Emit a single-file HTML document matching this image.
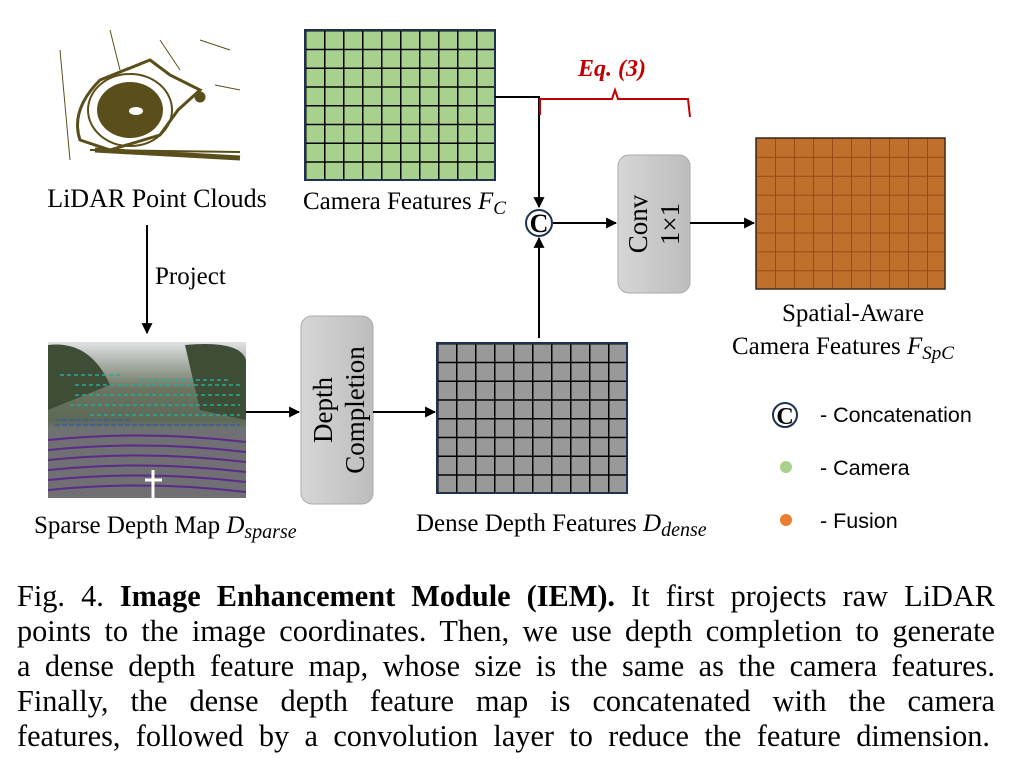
<!DOCTYPE html>
<html><head><meta charset="utf-8"><style>
html,body{margin:0;padding:0;background:#fff;}
svg{display:block;position:absolute;left:0;top:0;}
.s{font-family:"Liberation Serif",serif;}
.a{font-family:"Liberation Sans",sans-serif;}
.cap{position:absolute;left:17px;width:978px;font-family:"Liberation Serif",serif;font-size:30.3px;line-height:35px;text-align:justify;text-align-last:justify;white-space:nowrap;}
</style></head><body>
<svg width="1020" height="780" viewBox="0 0 1020 780" xmlns="http://www.w3.org/2000/svg">
<defs>
<pattern id="gg" x="305" y="30" width="19" height="18.75" patternUnits="userSpaceOnUse">
<rect width="19" height="18.75" fill="#a9d18e"/><path d="M0 0H19M0 0V18.75" stroke="#000" stroke-width="3"/></pattern>
<pattern id="gd" x="437" y="343" width="19" height="18.75" patternUnits="userSpaceOnUse">
<rect width="19" height="18.75" fill="#999"/><path d="M0 0H19M0 0V18.75" stroke="#000" stroke-width="3"/></pattern>
<pattern id="go" x="756" y="138" width="19" height="18.9" patternUnits="userSpaceOnUse">
<rect width="19" height="18.9" fill="#c0702d"/><path d="M0 0H19M0 0V18.9" stroke="#9a4a14" stroke-width="2"/></pattern>
<linearGradient id="box" x1="0" y1="0" x2="1" y2="0"><stop offset="0" stop-color="#d6d6d6"/><stop offset="1" stop-color="#bdbdbd"/></linearGradient>
<linearGradient id="sky" x1="0" y1="0" x2="0" y2="1"><stop offset="0" stop-color="#e0e2e4"/><stop offset="0.3" stop-color="#6b7560"/><stop offset="0.5" stop-color="#5c6a55"/><stop offset="0.6" stop-color="#7a7a80"/><stop offset="1" stop-color="#6d6e72"/></linearGradient>
<marker id="ar" viewBox="0 0 10 10" refX="9" refY="5" markerWidth="11" markerHeight="11" markerUnits="userSpaceOnUse" orient="auto"><path d="M0 0L10 5L0 10z" fill="#000"/></marker>
</defs>

<!-- LiDAR -->
<g stroke="#5a4f1a" fill="none">
<path d="M80 140 Q70 110 100 80 L150 60 L170 75 L200 90 L178 110 L160 135 L110 150 Z" stroke-width="3"/>
<ellipse cx="130" cy="110" rx="33" ry="28" fill="#5a4f1a" stroke="none"/>
<ellipse cx="130" cy="110" rx="42" ry="36" stroke-width="2"/>
<path d="M95 150 L240 158" stroke-width="5"/>
<path d="M90 150 L240 152" stroke-width="2"/>
<path d="M60 50 L70 160 M110 30 L120 70 M160 40 L180 70 M200 40 L230 50 M215 85 L240 90" stroke-width="1"/>
<circle cx="200" cy="97" r="5" fill="#5a4f1a"/>
</g>
<ellipse cx="136" cy="111" rx="7" ry="4" fill="#fff"/>
<text x="157" y="207" class="s" font-size="26" text-anchor="middle">LiDAR Point Clouds</text>

<line x1="147" y1="225" x2="147" y2="333" stroke="#000" stroke-width="2" marker-end="url(#ar)"/>
<text x="155" y="284" class="s" font-size="25">Project</text>

<!-- Sparse image -->
<rect x="48" y="342" width="198" height="156" fill="url(#sky)"/>
<path d="M48 345 Q90 340 110 385 L48 410Z" fill="#3e4d36"/>
<path d="M185 345 Q240 340 246 360 L246 420 L200 410Z" fill="#3e4d36"/>
<path d="M48 430 L246 430 L246 498 L48 498Z" fill="#6f6f74"/>
<g stroke="#5b2a8a" stroke-width="2" fill="none">
<path d="M48 440 Q147 430 246 442"/><path d="M48 450 Q147 440 246 452"/><path d="M48 460 Q147 450 246 462"/><path d="M48 470 Q147 460 246 472"/><path d="M48 480 Q147 470 246 482"/><path d="M48 490 Q147 480 246 492"/>
</g>
<g stroke="#2aa89a" stroke-width="1.5" stroke-dasharray="4 3">
<path d="M75 385H240M75 395H240M70 405H240M90 415H240M60 375H120M140 380H230"/>
</g>
<g stroke="#3b5aa8" stroke-width="1.5" stroke-dasharray="5 2"><path d="M55 425H240M55 420H130"/></g>
<path d="M153 470V498M145 480H162" stroke="#fff" stroke-width="3"/>
<text x="34" y="533" class="s" font-size="25">Sparse Depth Map <tspan font-style="italic">D</tspan><tspan font-style="italic" font-size="20" dy="5">sparse</tspan></text>

<line x1="246" y1="412" x2="299" y2="412" stroke="#000" stroke-width="2" marker-end="url(#ar)"/>
<rect x="301" y="316" width="72" height="188" rx="11" fill="url(#box)" stroke="#aaa"/>
<text transform="translate(332,410) rotate(-90)" class="s" font-size="27" text-anchor="middle">Depth</text>
<text transform="translate(364,410) rotate(-90)" class="s" font-size="27" text-anchor="middle">Completion</text>
<line x1="373" y1="412" x2="435" y2="412" stroke="#000" stroke-width="2" marker-end="url(#ar)"/>

<!-- Dense -->
<rect x="437" y="343" width="190" height="150" fill="url(#gd)"/>
<rect x="437" y="343" width="190" height="150" fill="none" stroke="#1f3050" stroke-width="2"/>
<text x="416" y="531" class="s" font-size="25">Dense Depth Features <tspan font-style="italic">D</tspan><tspan font-style="italic" font-size="20" dy="5">dense</tspan></text>

<!-- Camera -->
<rect x="305" y="30" width="190" height="150" fill="url(#gg)"/>
<rect x="305" y="30" width="190" height="150" fill="none" stroke="#1f3050" stroke-width="2"/>
<text x="303" y="209" class="s" font-size="25">Camera Features <tspan font-style="italic">F</tspan><tspan font-style="italic" font-size="19" dy="5">C</tspan></text>

<path d="M495 97H539V207" stroke="#000" stroke-width="2" fill="none" marker-end="url(#ar)"/>
<line x1="539" y1="338" x2="539" y2="238" stroke="#000" stroke-width="2" marker-end="url(#ar)"/>
<circle cx="539" cy="223" r="13" fill="#fff" stroke="#1f3050" stroke-width="2"/>
<text x="539" y="232" class="s" font-size="26" font-weight="bold" text-anchor="middle">C</text>
<line x1="553" y1="223" x2="616" y2="223" stroke="#000" stroke-width="2" marker-end="url(#ar)"/>

<!-- Eq bracket -->
<path d="M540 115V99H612L615 90L618 99H688L690 117" stroke="#c00000" stroke-width="2" fill="none"/>
<text x="612" y="76" class="s" font-size="24" font-weight="bold" font-style="italic" fill="#c00000" text-anchor="middle">Eq. (3)</text>

<rect x="618" y="155" width="72" height="138" rx="11" fill="url(#box)" stroke="#aaa"/>
<text transform="translate(647,224) rotate(-90)" class="s" font-size="27" text-anchor="middle">Conv</text>
<text transform="translate(679,224) rotate(-90)" class="s" font-size="27" text-anchor="middle">1×1</text>
<line x1="690" y1="223" x2="754" y2="223" stroke="#000" stroke-width="2" marker-end="url(#ar)"/>

<!-- Orange -->
<rect x="756" y="138" width="189" height="151" fill="url(#go)"/>
<rect x="756" y="138" width="189" height="151" fill="none" stroke="#3a2a1a" stroke-width="1.5"/>
<text x="853" y="321" class="s" font-size="25" text-anchor="middle">Spatial-Aware</text>
<text x="732" y="354" class="s" font-size="25">Camera Features <tspan font-style="italic">F</tspan><tspan font-style="italic" font-size="19" dy="5">SpC</tspan></text>

<!-- Legend -->
<circle cx="785" cy="415" r="12" fill="#fff" stroke="#1f3050" stroke-width="2"/>
<text x="785" y="424" class="s" font-size="24" font-weight="bold" text-anchor="middle">C</text>
<text x="820" y="422" class="a" font-size="21.5">- Concatenation</text>
<circle cx="786" cy="467" r="6" fill="#a9d18e"/>
<text x="820" y="475" class="a" font-size="21.5">- Camera</text>
<circle cx="786" cy="520" r="6" fill="#ed7d31"/>
<text x="820" y="528" class="a" font-size="21.5">- Fusion</text>
</svg>
<div class="cap" style="top:579px">Fig. 4. <b>Image Enhancement Module (IEM).</b> It first projects raw LiDAR</div>
<div class="cap" style="top:614px">points to the image coordinates. Then, we use depth completion to generate</div>
<div class="cap" style="top:649px">a dense depth feature map, whose size is the same as the camera features.</div>
<div class="cap" style="top:684px">Finally, the dense depth feature map is concatenated with the camera</div>
<div class="cap" style="top:719px;width:973px">features, followed by a convolution layer to reduce the feature dimension.</div>
</body></html>
